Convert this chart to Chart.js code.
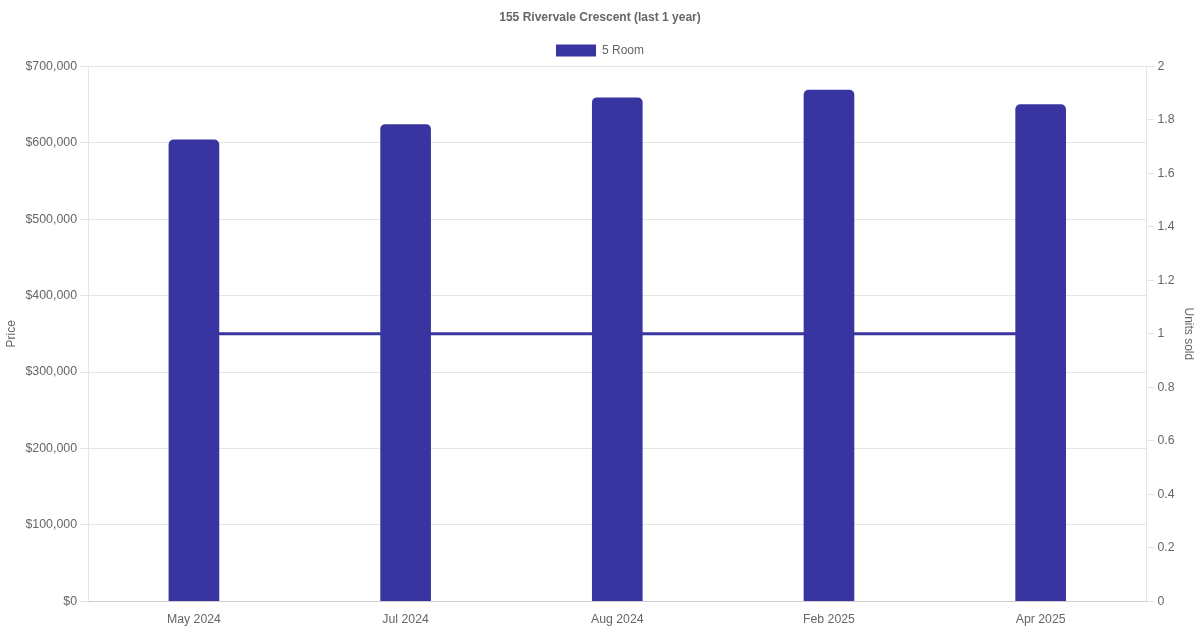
<!DOCTYPE html>
<html>
<head>
<meta charset="utf-8">
<script src="https://cdn.jsdelivr.net/npm/chart.js@4"></script>
<style>
  html, body { margin: 0; padding: 0; background: #fff; }
  #wrap { width: 1200px; height: 630px; }
</style>
</head>
<body>
<div id="wrap"><canvas id="chart"></canvas></div>
<script>
const months = ['May 2024', 'Jul 2024', 'Aug 2024', 'Feb 2025', 'Apr 2025'];
const prices = [604000, 624000, 659000, 669000, 650000];
const unitsSold = [1, 1, 1, 1, 1];
const flatType = '5 Room';

const color = '#3935a0';

Chart.defaults.color = '#666';

new Chart(document.getElementById('chart'), {
  data: {
    labels: months,
    datasets: [
      {
        type: 'bar',
        label: flatType,
        data: prices,
        backgroundColor: color,
        borderRadius: 5,
        barThickness: 50,
        yAxisID: 'y',
        order: 1
      },
      {
        type: 'line',
        label: 'Units sold',
        data: unitsSold,
        borderColor: color,
        backgroundColor: color,
        borderWidth: 3,
        pointRadius: 0,
        yAxisID: 'y1',
        order: 2
      }
    ]
  },
  options: {
    responsive: true,
    maintainAspectRatio: false,
    animation: false,
    plugins: {
      title: {
        display: true,
        text: '155 Rivervale Crescent (last 1 year)'
      },
      legend: {
        labels: {
          filter: item => item.text === flatType
        }
      }
    },
    scales: {
      x: {
        grid: { display: false },
        ticks: { font: { size: 12.3 } }
      },
      y: {
        position: 'left',
        min: 0,
        max: 700000,
        ticks: {
          stepSize: 100000,
          font: { size: 12.4 },
          callback: value => '$' + value.toLocaleString('en-US')
        },
        title: { display: true, text: 'Price' }
      },
      y1: {
        position: 'right',
        min: 0,
        max: 2,
        ticks: {
          stepSize: 0.2,
          font: { size: 12.3 },
          callback: value => String(+value.toFixed(1))
        },
        grid: { drawOnChartArea: false },
        title: { display: true, text: 'Units sold' }
      }
    }
  }
});
</script>
</body>
</html>
